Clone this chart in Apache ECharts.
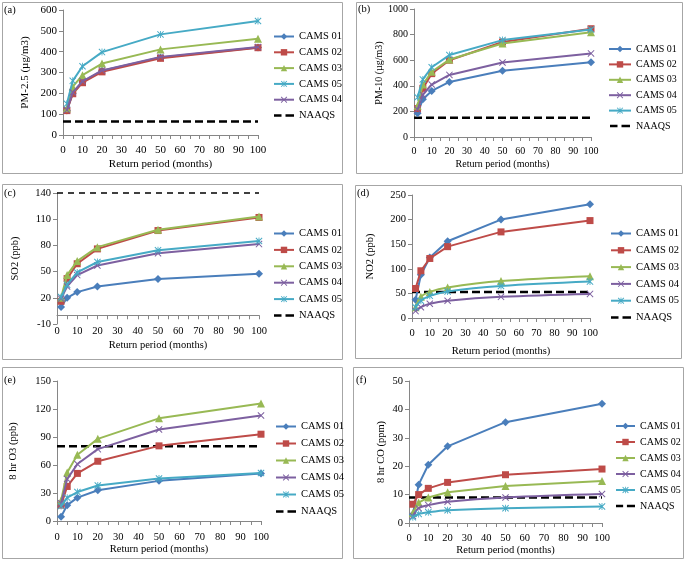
<!DOCTYPE html>
<html><head><meta charset="utf-8">
<script src="https://cdn.jsdelivr.net/npm/echarts@6/dist/echarts.min.js"></script>
<style>html,body{margin:0;padding:0;background:#fff}#c{width:685px;height:561px}</style>
</head><body><div id="c"></div>
<script>
// ---------- data ----------
const returnPeriods = [2, 5, 10, 20, 50, 100];
const naaqsX = [0, 100];
const xTicks = [0, 10, 20, 30, 40, 50, 60, 70, 80, 90, 100];

// (a) PM-2.5
const pm25_01 = [118, 200, 255, 308, 372, 420];
const pm25_02 = [117, 198, 251, 303, 368, 419];
const pm25_03 = [128, 232, 287, 343, 411, 462];
const pm25_04 = [120, 205, 258, 310, 375, 422];
const pm25_05 = [150, 260, 330, 398, 483, 547];
const pm25_naaqs = 65;

// (b) PM-10
const pm10_01 = [185, 295, 360, 430, 518, 584];
const pm10_02 = [222, 380, 495, 600, 742, 846];
const pm10_03 = [245, 410, 510, 605, 730, 818];
const pm10_04 = [215, 330, 410, 485, 582, 653];
const pm10_05 = [310, 450, 545, 640, 757, 840];
const pm10_naaqs = 150;

// (c) SO2
const so2_01 = [9.5, 20, 26.5, 33, 41.5, 47.5];
const so2_02 = [16, 42, 59, 76, 97, 112];
const so2_03 = [20, 46, 62, 78, 98, 113];
const so2_04 = [19, 33, 46, 57, 71, 81.5];
const so2_05 = [21, 35, 49, 61, 74.5, 85];
const so2_naaqs = 140;

// (d) NO2
const no2_01 = [37, 88, 123, 156, 200, 231];
const no2_02 = [60, 96, 121, 145, 175, 198];
const no2_03 = [22, 43, 53, 62, 75, 85];
const no2_04 = [14, 22, 29, 35, 43, 49];
const no2_05 = [22, 35, 45, 54, 65, 74];
const no2_naaqs = 53;

// (e) 8 hr O3
const o3_01 = [4.5, 17, 25, 33, 43, 51];
const o3_02 = [17, 37, 51, 64, 80.5, 93];
const o3_03 = [22, 52, 71, 88, 110, 126];
const o3_04 = [19, 45, 61, 77, 98, 113];
const o3_05 = [16, 25, 31, 38, 45.5, 51.5];
const o3_naaqs = 80;

// (f) 8 hr CO
const co_01 = [3, 13.5, 20.5, 27, 35.5, 42];
const co_02 = [6.6, 10, 12.2, 14.3, 17, 19];
const co_03 = [3.5, 7.2, 9, 10.8, 13, 14.8];
const co_04 = [2.5, 5.2, 6.3, 7.5, 9, 10.2];
const co_05 = [2, 3.2, 3.8, 4.5, 5.2, 5.8];
const co_naaqs = 9;

// ---------- styling ----------
const FONT = '"Liberation Serif","Times New Roman",serif';
const AXIS_C = '#868686';
const COLORS = {'CAMS 01':'#4A7EBB','CAMS 02':'#BE4B48','CAMS 03':'#98B954','CAMS 04':'#7D60A0','CAMS 05':'#46AAC5'};
const XPATH = 'path://M0,1 L1,0 L5,4 L9,0 L10,1 L6,5 L10,9 L9,10 L5,6 L1,10 L0,9 L4,5 Z';
const STARPATH = 'path://M0,1 L1,0 L5,4 L9,0 L10,1 L6,5 L10,9 L9,10 L5,6 L1,10 L0,9 L4,5 Z M4.4,0 L5.6,0 L5.6,10 L4.4,10 Z';
const DASHICON = 'path://M0,0 L0.01,0 L0.01,0.01 Z M0,2.8 L7.5,2.8 L7.5,5.2 L0,5.2 Z M11.5,2.8 L20,2.8 L20,5.2 L11.5,5.2 Z M20,8 L19.99,8 L19.99,7.99 Z';
const SYMBOLS = {'CAMS 01':['diamond',8],'CAMS 02':['rect',7],'CAMS 03':['triangle',8],'CAMS 04':[XPATH,7],'CAMS 05':[STARPATH,7]};

const panels = [
  {key:'a', label:'(a)', yName:'PM-2.5 (µg/m3)', ymin:0, ymax:600, yint:100,
   data:{'CAMS 01':pm25_01,'CAMS 02':pm25_02,'CAMS 03':pm25_03,'CAMS 04':pm25_04,'CAMS 05':pm25_05}, naaqs:pm25_naaqs,
   order:['CAMS 01','CAMS 02','CAMS 03','CAMS 05','CAMS 04'], smooth:[],
   grid:{left:63, top:10, width:195, height:125}, box:[2,2,340,171], lab:[4,5],
   yGap:32, xGap:24, xMargin:10, fs:11, lfs:10.5,
   legend:{left:273, top:31, gap:4.8, w:20}, naaqsW:2.5, dash:[8,4]},
  {key:'b', label:'(b)', yName:'PM-10 (µg/m3)', ymin:0, ymax:1000, yint:200,
   data:{'CAMS 01':pm10_01,'CAMS 02':pm10_02,'CAMS 03':pm10_03,'CAMS 04':pm10_04,'CAMS 05':pm10_05}, naaqs:pm10_naaqs,
   order:['CAMS 01','CAMS 02','CAMS 03','CAMS 04','CAMS 05'], smooth:[],
   grid:{left:414, top:9, width:177, height:128}, box:[356,2,326,171], lab:[358,4],
   yGap:30, xGap:22, xMargin:9, fs:10, lfs:10,
   legend:{left:608, top:44, gap:5.4, w:22}, naaqsW:2.5, dash:[8,4]},
  {key:'c', label:'(c)', yName:'SO2 (ppb)', ymin:-10, ymax:140, yint:30,
   data:{'CAMS 01':so2_01,'CAMS 02':so2_02,'CAMS 03':so2_03,'CAMS 04':so2_04,'CAMS 05':so2_05}, naaqs:so2_naaqs,
   order:['CAMS 01','CAMS 02','CAMS 03','CAMS 04','CAMS 05'], smooth:[],
   grid:{left:57, top:193, width:202, height:131}, box:[2,184,340,175], lab:[4,188],
   yGap:36, xGap:16, xMargin:2, fs:10.5, lfs:10.5,
   legend:{left:273, top:228, gap:5.4, w:20}, naaqsW:1.3, dash:[6,5]},
  {key:'d', label:'(d)', yName:'NO2 (ppb)', ymin:0, ymax:250, yint:50,
   data:{'CAMS 01':no2_01,'CAMS 02':no2_02,'CAMS 03':no2_03,'CAMS 04':no2_04,'CAMS 05':no2_05}, naaqs:no2_naaqs,
   order:['CAMS 01','CAMS 02','CAMS 03','CAMS 04','CAMS 05'], smooth:['CAMS 03','CAMS 04','CAMS 05'],
   grid:{left:412, top:195, width:178, height:123}, box:[355,185,326,173], lab:[357,188],
   yGap:36, xGap:28, xMargin:10, fs:10.5, lfs:10.5,
   legend:{left:610, top:228, gap:5.8, w:20}, naaqsW:2.5, dash:[8,4]},
  {key:'e', label:'(e)', yName:'8 hr O3 (ppb)', ymin:0, ymax:150, yint:30,
   data:{'CAMS 01':o3_01,'CAMS 02':o3_02,'CAMS 03':o3_03,'CAMS 04':o3_04,'CAMS 05':o3_05}, naaqs:o3_naaqs,
   order:['CAMS 01','CAMS 02','CAMS 03','CAMS 04','CAMS 05'], smooth:[],
   grid:{left:57, top:381, width:204, height:140}, box:[2,367,340,191], lab:[4,375],
   yGap:38, xGap:21, xMargin:11, fs:10.5, lfs:10.5,
   legend:{left:275, top:421, gap:6, w:20}, naaqsW:2.5, dash:[8,4]},
  {key:'f', label:'(f)', yName:'8 hr CO (ppm)', ymin:0, ymax:50, yint:10,
   data:{'CAMS 01':co_01,'CAMS 02':co_02,'CAMS 03':co_03,'CAMS 04':co_04,'CAMS 05':co_05}, naaqs:co_naaqs,
   order:['CAMS 01','CAMS 02','CAMS 03','CAMS 04','CAMS 05'], smooth:['CAMS 04','CAMS 05'],
   grid:{left:409, top:381, width:193, height:142}, box:[353,367,330,191], lab:[356,375],
   yGap:22, xGap:21, xMargin:10, fs:10.5, lfs:10,
   legend:{left:615, top:421, gap:6, w:19}, naaqsW:2.5, dash:[8,4]}
];

const grid = [], xAxis = [], yAxis = [], series = [], legend = [], graphic = [];

panels.forEach((p, i) => {
  grid.push(Object.assign({containLabel:false}, p.grid));
  const isC = p.key === 'c';
  xAxis.push({
    type:'value', gridIndex:i, min:xTicks[0], max:xTicks[xTicks.length-1], interval:10, position:'bottom',
    axisLine:{show:!isC, onZero:!isC, lineStyle:{color:AXIS_C, width:1}},
    axisTick:{show:!isC, length:4, lineStyle:{color:AXIS_C}},
    minorTick:{show:!isC, splitNumber:2, length:4, lineStyle:{color:AXIS_C}},
    splitLine:{show:false}, minorSplitLine:{show:false},
    axisLabel:{fontFamily:FONT, fontSize:p.fs, color:'#000', margin:p.xMargin},
    name:'Return period (months)', nameLocation:'middle', nameGap:p.xGap,
    nameTextStyle:{fontFamily:FONT, fontSize:p.fs, color:'#000'}
  });
  yAxis.push({
    type:'value', gridIndex:i, min:p.ymin, max:p.ymax, interval:p.yint,
    axisLine:{show:true, lineStyle:{color:AXIS_C, width:1}},
    axisTick:{show:true, length:4, lineStyle:{color:AXIS_C}},
    splitLine:{show:false},
    axisLabel:{fontFamily:FONT, fontSize:p.fs, color:'#000', margin:6, formatter:(v) => String(v)},
    name:p.yName, nameLocation:'middle', nameGap:p.yGap, nameRotate:90,
    nameTextStyle:{fontFamily:FONT, fontSize:p.fs, color:'#000'}
  });
  const legendData = [];
  p.order.forEach((nm, k) => {
    const sym = SYMBOLS[nm];
    const vals = p.data[nm];
    const full = p.key + '|' + nm;
    legendData.push({name:full});
    series.push({
      type:'line', name:full, xAxisIndex:i, yAxisIndex:i,
      data: returnPeriods.map((x, j) => [x, vals[j]]),
      symbol:sym[0], symbolSize:sym[1], showSymbol:true,
      smooth: p.smooth.indexOf(nm) >= 0 ? 0.35 : false,
      lineStyle:{width:2, color:COLORS[nm]}, itemStyle:{color:COLORS[nm], borderWidth:0},
      emphasis:{disabled:true}, animation:false, z:2+k
    });
  });
  const nname = p.key + '|NAAQS';
  legendData.push({name:nname, icon:DASHICON});
  series.push({
    type:'line', name:nname, xAxisIndex:i, yAxisIndex:i,
    data: naaqsX.map(x => [x, p.naaqs]),
    symbol:'none', clip:false,
    lineStyle:{width:p.naaqsW, color:'#000', type:p.dash}, itemStyle:{color:'#000'},
    emphasis:{disabled:true}, animation:false, z:1
  });
  legend.push({
    orient:'vertical', left:p.legend.left, top:p.legend.top, itemGap:p.legend.gap, padding:0,
    itemWidth:p.legend.w, itemHeight:8, selectedMode:false,
    data:legendData, formatter:(n) => n.split('|')[1],
    textStyle:{fontFamily:FONT, fontSize:p.lfs, color:'#000', lineHeight:10}
  });
  graphic.push({type:'rect', shape:{x:p.box[0]+0.5, y:p.box[1]+0.5, width:p.box[2], height:p.box[3]},
    style:{fill:'none', stroke:'#a6a6a6', lineWidth:1}, silent:true, z:-1});
  graphic.push({type:'text', left:p.lab[0], top:p.lab[1],
    style:{text:p.label, fontFamily:FONT, fontSize:10.5, fill:'#000'}, silent:true});
});

// (c): Excel draws the horizontal axis line at y = 0 while its labels stay at the bottom
const cIdx = panels.findIndex(p => p.key === 'c');
xAxis.push({
  type:'value', gridIndex:cIdx, min:0, max:100, interval:10, position:'bottom',
  axisLine:{show:true, onZero:true, lineStyle:{color:AXIS_C, width:1}},
  axisTick:{show:true, length:4, lineStyle:{color:AXIS_C}},
  minorTick:{show:true, splitNumber:2, length:4, lineStyle:{color:AXIS_C}},
  axisLabel:{show:false}, splitLine:{show:false}
});

const chart = echarts.init(document.getElementById('c'), null, {renderer:'canvas'});
chart.setOption({backgroundColor:'#fff', animation:false, grid, xAxis, yAxis, series, legend, graphic});
</script>
</body></html>
